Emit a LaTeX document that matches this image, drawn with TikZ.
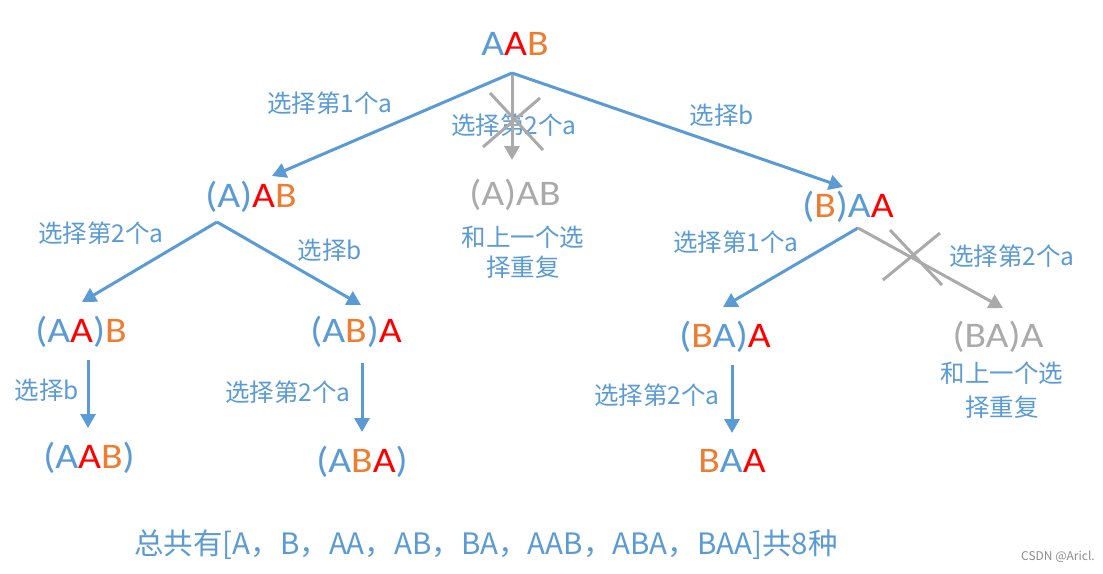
\documentclass[tikz,border=0pt]{standalone}
\usepackage{fontspec}
\setmainfont{Carlito}[FakeStretch=1.1]
\newfontfamily\cjk{Noto Sans CJK SC}
\usetikzlibrary{arrows.meta,calc}
\definecolor{cb}{HTML}{5B9BD5}
\definecolor{cr}{HTML}{FF0000}
\definecolor{co}{HTML}{ED7D31}
\definecolor{cg}{HTML}{AAAAAA}
\definecolor{cw}{HTML}{8C8C8C}
\newcommand\tR[1]{\textcolor{cr}{#1}}
\newcommand\tO[1]{\textcolor{co}{#1}}
\begin{document}
\begin{tikzpicture}[x=1pt,y=-1pt,
  state/.style={font=\fontsize{36}{40}\selectfont, inner sep=0pt, anchor=base, text=cb},
  lbl/.style={font=\cjk\fontsize{24.5}{30}\selectfont, inner sep=0pt, text=cb, align=center},
  arr/.style={draw=cb, line width=3pt, -{Triangle[length=14pt,width=15pt]}},
  garr/.style={draw=cg, line width=3pt, -{Triangle[length=14pt,width=15pt]}},
  cross/.style={draw=cg, line width=3pt}]
\useasboundingbox[fill=white] (0,0) rectangle (1103,573);

% states
\node[state] (n0) at (515,55) {A\tR{A}\tO{B}};
\node[state] (n1) at (251,207) {(A)\tR{A}\tO{B}};
\node[state,text=cg] (n2) at (515,205) {(A)AB};
\node[state] (n3) at (848,217) {(\tO{B})A\tR{A}};
\node[state] (n4) at (81,342) {(A\tR{A})\tO{B}};
\node[state] (n5) at (356,342) {(A\tO{B})\tR{A}};
\node[state] (n6) at (725,347) {(\tO{B}A)\tR{A}};
\node[state,text=cg] (n7) at (998,347) {(BA)A};
\node[state] (n8) at (89,468) {(A\tR{A}\tO{B})};
\node[state] (n9) at (362,472) {(A\tO{B}\tR{A})};
\node[state] (n10) at (732,472) {\tO{B}A\tR{A}};

% labels
\node[lbl] (l1) at (330,103) {选择第1个a};
\node[lbl] (l2) at (514,125) {选择第2个a};
\node[lbl] (l3) at (722,115) {选择b};
\node[lbl] (l4) at (101,233) {选择第2个a};
\node[lbl] (l5) at (330,250) {选择b};
\node[lbl] (l6) at (523,252) {和上一个选\\择重复};
\node[lbl] (l7) at (736,242) {选择第1个a};
\node[lbl] (l8) at (1012,256) {选择第2个a};
\node[lbl] (l9) at (47,390) {选择b};
\node[lbl] (l10) at (288,392) {选择第2个a};
\node[lbl] (l11) at (657,395) {选择第2个a};
\node[lbl, font=\cjk\fontsize{24.5}{34}\selectfont] (l12) at (1002,390) {和上一个选\\择重复};

% connectors
\draw[arr] ($(n0.base)+(-3,18)$) -- ($(n1.base)+(21,-31)$);
\draw[arr] ($(n0.base)+(-3,18)$) -- ($(n3.base)+(-5,-30)$);
\draw[garr] ($(n0.base)+(-3,20)$) -- ($(n2.base)+(-3,-45)$);
\draw[arr] ($(n1.base)+(-34,15)$) -- ($(n4.base)+(1,-40)$);
\draw[arr] ($(n1.base)+(-34,15)$) -- ($(n5.base)+(5,-37)$);
\draw[arr] ($(n4.base)+(7,18)$) -- ($(n8.base)+(-1,-40)$);
\draw[arr] ($(n5.base)+(6,21)$) -- ($(n9.base)+(0,-40)$);
\draw[arr] ($(n3.base)+(10,11)$) -- ($(n6.base)+(-2,-40)$);
\draw[garr] ($(n3.base)+(10,11)$) -- ($(n7.base)+(5,-39)$);
\draw[arr] ($(n6.base)+(7,18)$) -- ($(n10.base)+(0,-39)$);

% crosses
\draw[cross] (490,93) -- (543,150);
\draw[cross] (540,98) -- (483,147);
\draw[cross] (890,230) -- (942,285);
\draw[cross] (940,233) -- (883,280);

% summary
\node[font=\cjk\fontsize{29.5}{32}\selectfont, text=cb, inner sep=0pt] (sum) at (486,545) {总共有[A，B，AA，AB，BA，AAB，ABA，BAA]共8种};
\node[font=\cjk\fontsize{12}{14}\selectfont, text=cw, inner sep=0pt] (wm) at (1058,557) {CSDN @Aricl.};
\end{tikzpicture}
\end{document}
